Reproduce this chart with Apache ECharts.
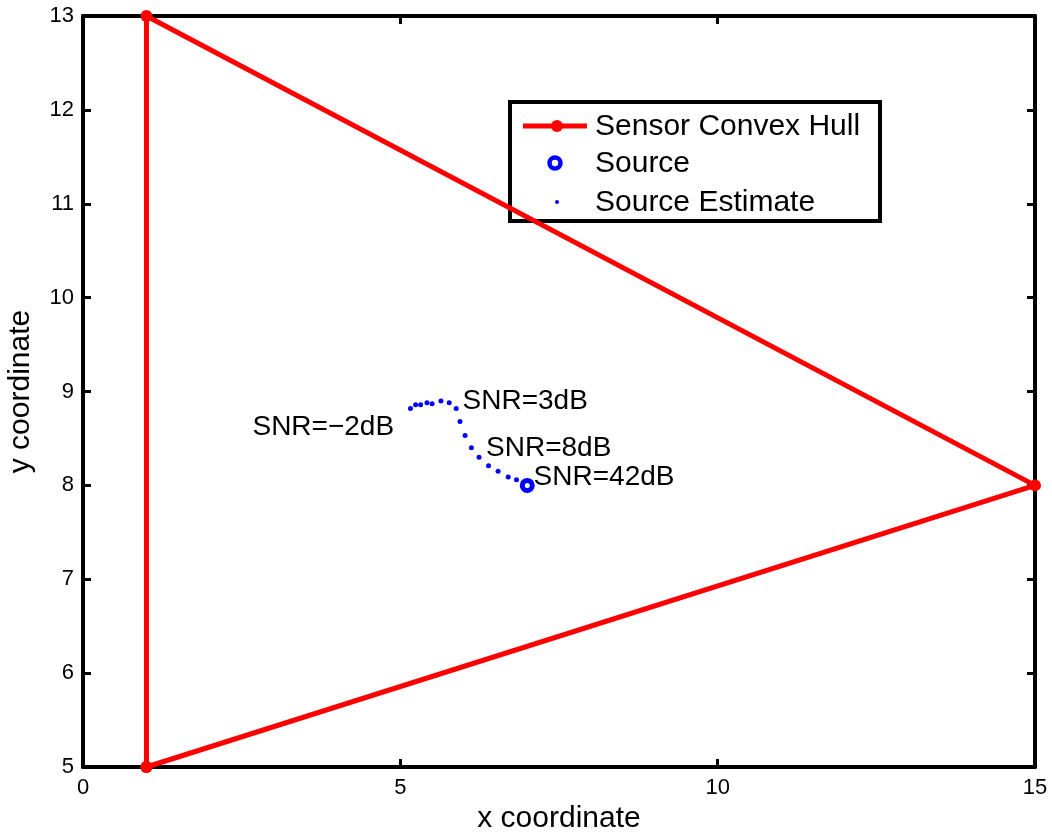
<!DOCTYPE html>
<html>
<head>
<meta charset="utf-8">
<script src="https://cdn.jsdelivr.net/npm/echarts@6/dist/echarts.min.js"></script>
<style>
html,body{margin:0;padding:0;background:#fff;}
#chart{width:1052px;height:833px;}
</style>
</head>
<body>
<div id="chart"></div>
<script>
// ---- data ----
const hullX = [1, 1, 15, 1];
const hullY = [5, 13, 8, 5];
const sourceX = [7];
const sourceY = [8];
const estX = [5.16, 5.24, 5.32, 5.42, 5.50, 5.64, 5.77, 5.88, 5.94, 6.02, 6.12, 6.24, 6.39, 6.54, 6.70, 6.83, 6.95];
const estY = [8.82, 8.86, 8.86, 8.88, 8.87, 8.90, 8.88, 8.82, 8.68, 8.53, 8.40, 8.30, 8.21, 8.15, 8.09, 8.06, 8.02];
const snrText = ['SNR=\u22122dB', 'SNR=3dB', 'SNR=8dB', 'SNR=42dB'];
const snrX = [2.67, 5.98, 6.35, 7.10];
const snrY = [8.62, 8.90, 8.39, 8.09];
const xMin = 0, xMax = 15, xStep = 5;
const yMin = 5, yMax = 13, yStep = 1;
const seriesNames = ['Sensor Convex Hull', 'Source', 'Source Estimate'];
const xTitle = 'x coordinate';
const yTitle = 'y coordinate';

const FONT = '"Liberation Sans", Arial, Helvetica, sans-serif';
const RED = '#ff0000', BLUE = '#0000ff';

const zip = (a, b) => a.map((v, i) => [v, b[i]]);

const chart = echarts.init(document.getElementById('chart'), null, {renderer: 'canvas'});

const axisCommon = {
  axisLine: {show: true, onZero: false, lineStyle: {color: '#000', width: 4}},
  axisTick: {show: true, inside: true, length: 8, lineStyle: {color: '#000', width: 3}},
  splitLine: {show: false}
};

const option = {
  animation: false,
  backgroundColor: '#fff',
  grid: {left: 83, right: 17, top: 16, bottom: 66, containLabel: false, outerBoundsMode: 'none'},
  xAxis: [
    Object.assign({}, axisCommon, {
      type: 'value', min: xMin, max: xMax, interval: xStep, position: 'bottom',
      axisLabel: {color: '#000', fontSize: 22, fontFamily: FONT, margin: 10},
      name: xTitle, nameLocation: 'middle', nameGap: 37,
      nameTextStyle: {color: '#000', fontSize: 30, fontFamily: FONT}
    }),
    Object.assign({}, axisCommon, {
      type: 'value', min: xMin, max: xMax, interval: xStep, position: 'top',
      axisLabel: {show: false}
    })
  ],
  yAxis: [
    Object.assign({}, axisCommon, {
      type: 'value', min: yMin, max: yMax, interval: yStep, position: 'left',
      axisLabel: {color: '#000', fontSize: 22, fontFamily: FONT, margin: 9},
      name: yTitle, nameLocation: 'middle', nameGap: 47,
      nameTextStyle: {color: '#000', fontSize: 30, fontFamily: FONT}
    }),
    Object.assign({}, axisCommon, {
      type: 'value', min: yMin, max: yMax, interval: yStep, position: 'right',
      axisLabel: {show: false}
    })
  ],
  series: [
    {
      name: seriesNames[0], type: 'line', data: zip(hullX, hullY),
      lineStyle: {color: RED, width: 5}, itemStyle: {color: RED, opacity: 1},
      symbol: 'circle', symbolSize: 12, showSymbol: true, z: 3, silent: true
    },
    {
      name: seriesNames[2], type: 'scatter', data: zip(estX, estY),
      symbol: 'circle', symbolSize: 5, itemStyle: {color: BLUE, opacity: 1}, z: 4, silent: true
    },
    {
      name: seriesNames[1], type: 'scatter', data: zip(sourceX, sourceY),
      symbol: 'circle', symbolSize: 10,
      itemStyle: {color: '#fff', borderColor: BLUE, borderWidth: 5, opacity: 1}, z: 5, silent: true
    },
    {
      name: 'labels', type: 'scatter', symbolSize: 0, z: 6, silent: true,
      itemStyle: {opacity: 1},
      data: snrText.map((t, i) => ({name: t, value: [snrX[i], snrY[i]]})),
      label: {
        show: true, position: [0, 0], align: 'left', verticalAlign: 'middle',
        formatter: p => p.name, color: '#000', fontSize: 28, fontFamily: FONT
      }
    }
  ],
  graphic: [
    {
      type: 'group', left: 508, top: 100, z: 100,
      children: [
        {type: 'rect', shape: {x: 2, y: 2, width: 370, height: 119}, style: {fill: '#fff', stroke: '#000', lineWidth: 4}},
        {type: 'line', shape: {x1: 15, y1: 26, x2: 79, y2: 26}, style: {stroke: RED, lineWidth: 5}},
        {type: 'circle', shape: {cx: 49, cy: 26, r: 6}, style: {fill: RED}},
        {type: 'text', x: 87, y: 27, style: {text: seriesNames[0], fill: '#000', font: '30px ' + FONT, verticalAlign: 'middle', align: 'left'}},
        {type: 'circle', shape: {cx: 47, cy: 63, r: 5.5}, style: {fill: '#fff', stroke: BLUE, lineWidth: 4.5}},
        {type: 'text', x: 87, y: 64, style: {text: seriesNames[1], fill: '#000', font: '30px ' + FONT, verticalAlign: 'middle', align: 'left'}},
        {type: 'circle', shape: {cx: 49, cy: 102, r: 2}, style: {fill: BLUE}},
        {type: 'text', x: 87, y: 103, style: {text: seriesNames[2], fill: '#000', font: '30px ' + FONT, verticalAlign: 'middle', align: 'left'}}
      ]
    }
  ]
};
chart.setOption(option);
</script>
</body>
</html>
